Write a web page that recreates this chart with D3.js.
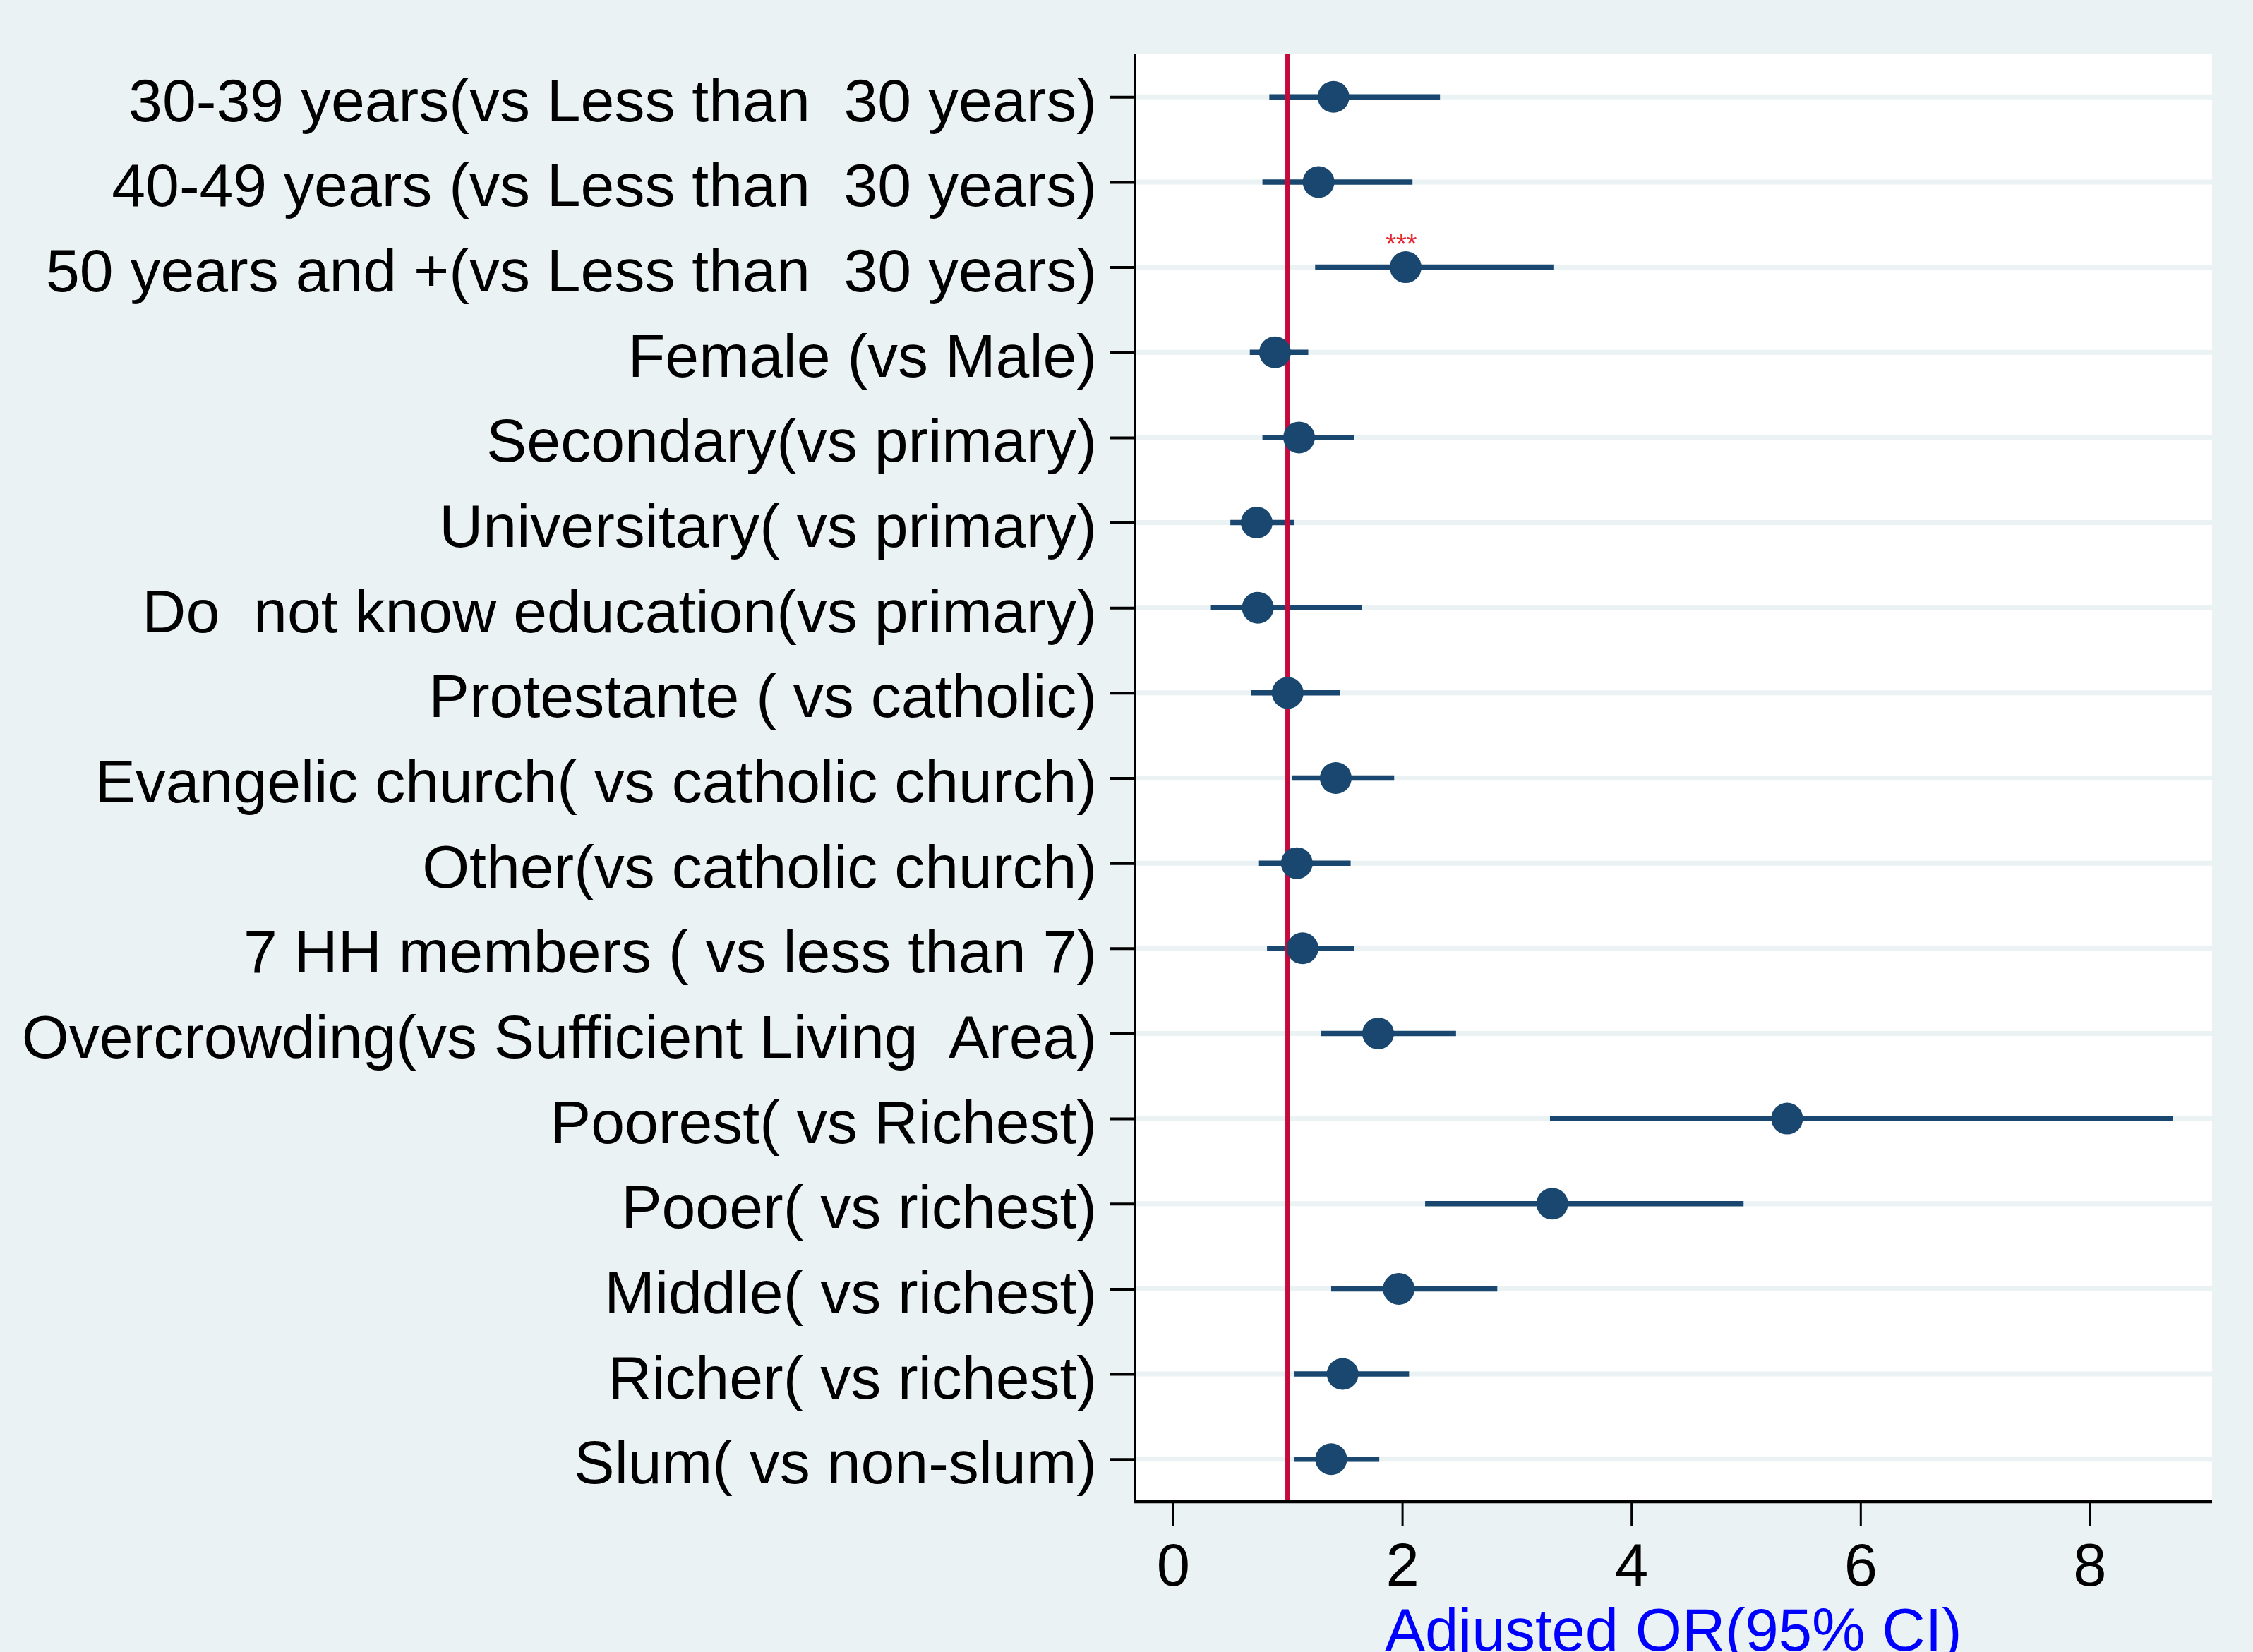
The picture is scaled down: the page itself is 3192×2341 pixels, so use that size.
<!DOCTYPE html>
<html>
<head>
<meta charset="utf-8">
<script src="https://cdn.jsdelivr.net/npm/d3@7/dist/d3.min.js"></script>
<style>
  html, body { margin: 0; padding: 0; background: #eaf2f3; }
  svg { display: block; }
  text { font-family: "Liberation Sans", Arial, Helvetica, sans-serif; }
</style>
</head>
<body>
<svg id="chart" width="3192" height="2341"></svg>
<script>
// ---- data ----
const categories = [
  "30-39 years(vs Less than  30 years)",
  "40-49 years (vs Less than  30 years)",
  "50 years and +(vs Less than  30 years)",
  "Female (vs Male)",
  "Secondary(vs primary)",
  "Universitary( vs primary)",
  "Do  not know education(vs primary)",
  "Protestante ( vs catholic)",
  "Evangelic church( vs catholic church)",
  "Other(vs catholic church)",
  "7 HH members ( vs less than 7)",
  "Overcrowding(vs Sufficient Living  Area)",
  "Poorest( vs Richest)",
  "Pooer( vs richest)",
  "Middle( vs richest)",
  "Richer( vs richest)",
  "Slum( vs non-slum)"
];
const oddsRatio = [1.40, 1.27, 2.03, 0.89, 1.10, 0.73, 0.74, 1.00, 1.42, 1.08, 1.13, 1.79, 5.36, 3.31, 1.97, 1.48, 1.38];
const ciLower   = [0.84, 0.78, 1.24, 0.67, 0.78, 0.50, 0.33, 0.68, 1.04, 0.75, 0.82, 1.29, 3.29, 2.20, 1.38, 1.06, 1.06];
const ciUpper   = [2.33, 2.09, 3.32, 1.18, 1.58, 1.06, 1.65, 1.46, 1.93, 1.55, 1.58, 2.47, 8.73, 4.98, 2.83, 2.06, 1.80];
const significance = ["", "", "***", "", "", "", "", "", "", "", "", "", "", "", "", "", ""];
const xTicks = [0, 2, 4, 6, 8];
const referenceValue = 1;
const xAxisTitle = "Adjusted OR(95% CI)";

// ---- layout ----
const W = 3192, H = 2341;
const plot = { left: 1608, right: 3134, top: 77, bottom: 2128 };
const navy = "#1a476f";
const bg = "#eaf2f3";

const svg = d3.select("#chart");
svg.append("rect").attr("width", W).attr("height", H).attr("fill", bg);

const x = d3.scaleLinear()
  .domain([(plot.left - 1662) / 162.3, (plot.right - 1662) / 162.3])
  .range([plot.left, plot.right]);

const y = d3.scalePoint()
  .domain(categories)
  .range([plot.top, plot.bottom])
  .padding(0.5);

const rows = categories.map((c, i) => ({
  cat: c, or: oddsRatio[i], lo: ciLower[i], hi: ciUpper[i], sig: significance[i]
}));

// plot region
svg.append("rect")
  .attr("x", plot.left).attr("y", plot.top)
  .attr("width", plot.right - plot.left).attr("height", plot.bottom - plot.top)
  .attr("fill", "#ffffff");

// gridlines
svg.append("g").selectAll("line").data(categories).join("line")
  .attr("x1", plot.left).attr("x2", plot.right)
  .attr("y1", d => y(d)).attr("y2", d => y(d))
  .attr("stroke", bg).attr("stroke-width", 7);

// CI lines
svg.append("g").selectAll("line").data(rows).join("line")
  .attr("x1", d => x(d.lo)).attr("x2", d => x(d.hi))
  .attr("y1", d => y(d.cat)).attr("y2", d => y(d.cat))
  .attr("stroke", navy).attr("stroke-width", 7.5);

// reference line
svg.append("line")
  .attr("x1", x(referenceValue)).attr("x2", x(referenceValue))
  .attr("y1", plot.top).attr("y2", plot.bottom)
  .attr("stroke", "#c6093b").attr("stroke-width", 6.5);

// points
svg.append("g").selectAll("circle").data(rows).join("circle")
  .attr("cx", d => x(d.or)).attr("cy", d => y(d.cat))
  .attr("r", 22.5).attr("fill", navy);

// significance marks
svg.append("g").selectAll("text").data(rows.filter(d => d.sig)).join("text")
  .attr("x", d => x(d.or) - 6).attr("y", d => y(d.cat) - 20)
  .attr("text-anchor", "middle")
  .attr("font-size", 38).attr("fill", "#e3262d")
  .text(d => d.sig);

// y axis
const yAxis = d3.axisLeft(y).tickSize(35).tickPadding(19);
const gy = svg.append("g").attr("transform", `translate(${plot.left},0)`).call(yAxis);
gy.select(".domain").remove();
gy.selectAll(".tick line").attr("stroke", "#000").attr("stroke-width", 4);
gy.selectAll(".tick text")
  .attr("font-size", 86).attr("fill", "#000")
  .attr("dy", 34).style("white-space", "pre")
  .attr("font-family", '"Liberation Sans", Arial, sans-serif');
svg.append("line")
  .attr("x1", plot.left).attr("x2", plot.left)
  .attr("y1", plot.top).attr("y2", plot.bottom + 2)
  .attr("stroke", "#000").attr("stroke-width", 4);

// x axis
const xAxis = d3.axisBottom(x).tickValues(xTicks).tickSize(35).tickPadding(24).tickFormat(d3.format("d"));
const gx = svg.append("g").attr("transform", `translate(0,${plot.bottom})`).call(xAxis);
gx.select(".domain").remove();
gx.selectAll(".tick line").attr("stroke", "#000").attr("stroke-width", 3);
gx.selectAll(".tick text")
  .attr("font-size", 85).attr("fill", "#000")
  .attr("dy", 0).attr("y", 119)
  .attr("font-family", '"Liberation Sans", Arial, sans-serif');
svg.append("line")
  .attr("x1", plot.left - 2).attr("x2", plot.right)
  .attr("y1", plot.bottom).attr("y2", plot.bottom)
  .attr("stroke", "#000").attr("stroke-width", 4.5);

// x axis title (cut at the bottom edge, as in the reference)
svg.append("text")
  .attr("x", (plot.left + plot.right) / 2).attr("y", 2339)
  .attr("text-anchor", "middle")
  .attr("font-size", 85).attr("fill", "#0000ff")
  .text(xAxisTitle);
</script>
</body>
</html>
